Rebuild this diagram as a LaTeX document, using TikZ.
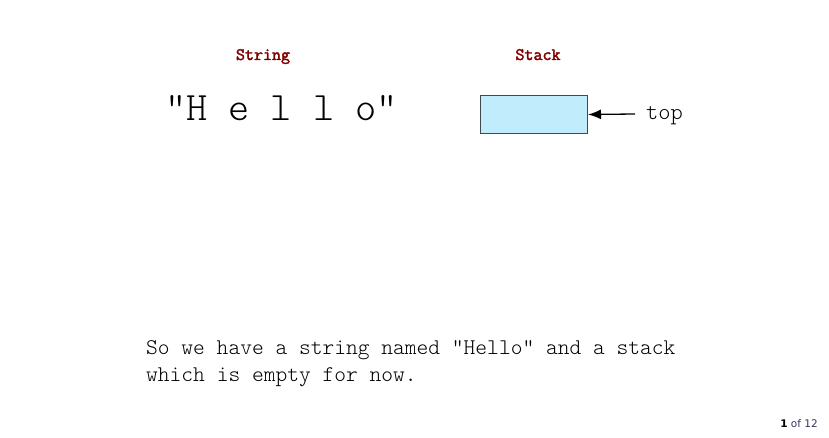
\documentclass[tikz,border=0pt]{standalone}
\usepackage{fontspec}
\newfontfamily\pagefont{DejaVu Sans}
\newfontfamily\monoheavy[FakeBold=2.2]{Latin Modern Mono}
\newfontfamily\monolight{Latin Modern Mono Light}
\usetikzlibrary{arrows.meta}
\definecolor{labelred}{HTML}{800000}
\definecolor{stackfill}{HTML}{C0ECFC}
\definecolor{stackedge}{HTML}{404850}
\definecolor{pageblue}{HTML}{333366}
\begin{document}
\begin{tikzpicture}[x=1pt,y=-1pt,
  heading/.style={inner sep=0pt,anchor=base,text=labelred,font=\monoheavy\fontsize{17.5}{20}\selectfont},
  bodytext/.style={inner sep=0pt,anchor=base west,font=\monolight\fontsize{22.4}{27}\selectfont},
  stackbox/.style={draw=stackedge,line width=1pt,fill=stackfill,minimum width=107pt,minimum height=38pt,inner sep=0pt}]
\useasboundingbox (0,0) rectangle (829,438);
\node[heading] (strlabel) at (263,60) {String};
\node[heading] (stklabel) at (538,60) {Stack};
\node[inner sep=0pt,anchor=base west,font=\monolight\fontsize{40.3}{44}\selectfont] (hello) at (165,121) {"H e l l o"};
\node[stackbox,anchor=north west] (stack) at (480,95) {};
\node[bodytext,font=\monolight\fontsize{23.3}{27}\selectfont] (toplabel) at (646,120) {top};
\coordinate (topstart) at (635,114);
\draw[line width=1.3pt,-{Latex[length=13pt,width=10pt]}] (topstart) -- (stack.east);
\node[bodytext,align=left,anchor=base west] (caption) at (146,381) {So we have a string named "Hello" and a stack\\which is empty for now.};
\node[inner sep=0pt,anchor=base east,font=\pagefont\fontsize{10.5}{12}\selectfont] (pagenum) at (818,427) {\textbf{1} \textcolor{pageblue}{of 12}};
\end{tikzpicture}
\end{document}
